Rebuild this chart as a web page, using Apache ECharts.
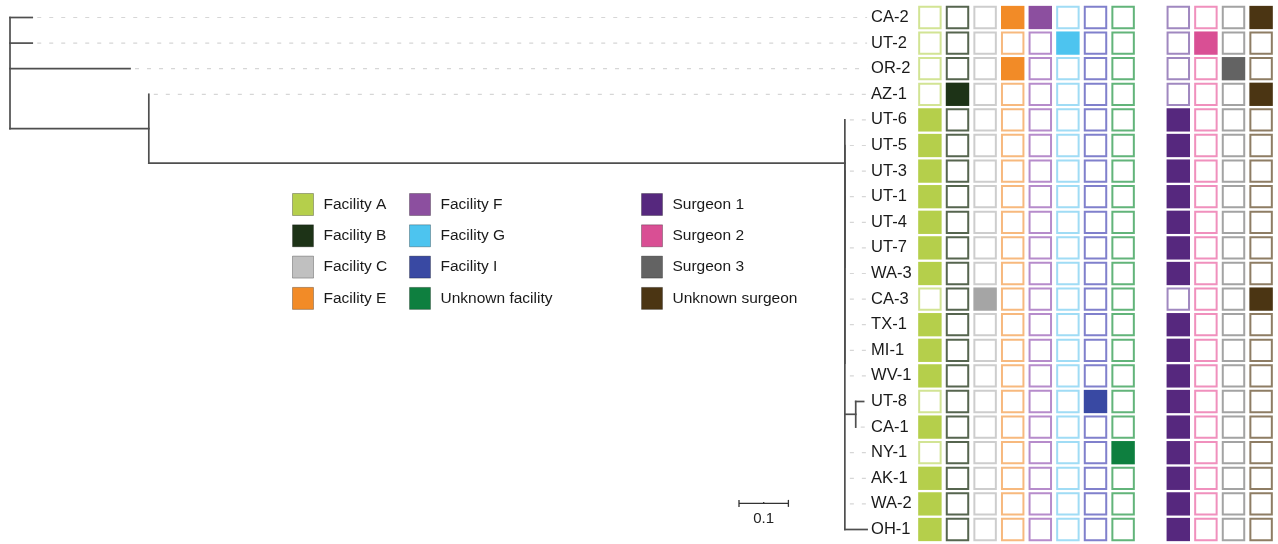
<!DOCTYPE html>
<html>
<head>
<meta charset="utf-8">
<script src="https://cdn.jsdelivr.net/npm/echarts@6/dist/echarts.min.js"></script>
<style>
html,body{margin:0;padding:0;background:#fff;}
#chart{width:1278px;height:544px;}
</style>
</head>
<body>
<div id="chart"></div>
<script>
// ---------------- DATA ----------------
const samples = ['CA-2','UT-2','OR-2','AZ-1','UT-6','UT-5','UT-3','UT-1','UT-4','UT-7','WA-3','CA-3','TX-1','MI-1','WV-1','UT-8','CA-1','NY-1','AK-1','WA-2','OH-1'];

// phylogeny (branch lengths in substitutions/site)
const treeNewick = '(CA-2:0.045,UT-2:0.045,OR-2:0.243,(AZ-1:0,(UT-6:0,(UT-5:0,(UT-3:0,(UT-1:0,UT-4:0,UT-7:0,WA-3:0,CA-3:0,TX-1:0,MI-1:0,WV-1:0,(UT-8:0.016,CA-1:0):0.022,NY-1:0,AK-1:0,WA-2:0,OH-1:0.045):0):0):0):1.409):0.281);';

const facilityCols = ['Facility A','Facility B','Facility C','Facility E','Facility F','Facility G','Facility I','Unknown facility'];
const surgeonCols  = ['Surgeon 1','Surgeon 2','Surgeon 3','Unknown surgeon'];

const sampleFacilities = [
  ['Facility E','Facility F'], ['Facility G'], ['Facility E'], ['Facility B'],
  ['Facility A'], ['Facility A'], ['Facility A'], ['Facility A'], ['Facility A'], ['Facility A'], ['Facility A'],
  ['Facility C'],
  ['Facility A'], ['Facility A'], ['Facility A'],
  ['Facility I'], ['Facility A'], ['Unknown facility'],
  ['Facility A'], ['Facility A'], ['Facility A']
];
const sampleSurgeons = [
  'Unknown surgeon','Surgeon 2','Surgeon 3','Unknown surgeon',
  'Surgeon 1','Surgeon 1','Surgeon 1','Surgeon 1','Surgeon 1','Surgeon 1','Surgeon 1',
  'Unknown surgeon',
  'Surgeon 1','Surgeon 1','Surgeon 1','Surgeon 1','Surgeon 1','Surgeon 1','Surgeon 1','Surgeon 1','Surgeon 1'
];

const scaleBarLength = 0.1;
const scaleBarLabel = '0.1';

// ---------------- STYLES ----------------
const fillColor = {
  'Facility A':'#b5cf4b','Facility B':'#1d3317','Facility C':'#c0c0c0','Facility E':'#f28b27',
  'Facility F':'#8c4f9f','Facility G':'#4dc4ef','Facility I':'#3949a3','Unknown facility':'#0e7f3f',
  'Surgeon 1':'#56287e','Surgeon 2':'#d94f94','Surgeon 3':'#636363','Unknown surgeon':'#4b3513'
};
const cellFillOverride = {'Facility C':'#a5a5a5'};
const borderColor = {
  'Facility A':'#d2e494','Facility B':'#56654f','Facility C':'#cdcdcd','Facility E':'#f7b97e',
  'Facility F':'#b68ccb','Facility G':'#a0dcf5','Facility I':'#8080cc','Unknown facility':'#62b47a',
  'Surgeon 1':'#a088c0','Surgeon 2':'#f090bd','Surgeon 3':'#a3a3a3','Unknown surgeon':'#8e7d64'
};
const FONT = '"Liberation Sans", Arial, Helvetica, sans-serif';

// ---------------- TREE LAYOUT ----------------
function parseNewick(s){
  let i = 0;
  function node(){
    const n = {children:[], name:'', len:0};
    if (s[i] === '('){
      i++;
      n.children.push(node());
      while (s[i] === ','){ i++; n.children.push(node()); }
      i++;
    }
    let name = '';
    while (i < s.length && ',():;'.indexOf(s[i]) < 0) name += s[i++];
    n.name = name.trim();
    if (s[i] === ':'){
      i++; let num = '';
      while (i < s.length && ',();'.indexOf(s[i]) < 0) num += s[i++];
      n.len = parseFloat(num);
    }
    return n;
  }
  return node();
}
const tree = parseNewick(treeNewick);
const branchSegs = [];
const leaves = [];
function layout(n, x0){
  n.x = x0 + n.len;
  if (!n.children.length){
    n.y = samples.indexOf(n.name);
    leaves.push([n.x, n.y, n.name]);
    return;
  }
  n.children.forEach(c => layout(c, n.x));
  const ys = n.children.map(c => c.y);
  n.y = (ys[0] + ys[ys.length-1]) / 2;
  branchSegs.push([n.x, Math.min.apply(null, ys), n.x, Math.max.apply(null, ys)]);
  n.children.forEach(c => branchSegs.push([n.x, c.y, c.x, c.y]));
}
layout(tree, 0);
const maxTip = Math.max.apply(null, leaves.map(l => l[0]));

// ---------------- HEATMAP DATA ----------------
const cellData = [];
samples.forEach((s, r) => {
  facilityCols.forEach((f, c) => {
    cellData.push([c, r, f, sampleFacilities[r].indexOf(f) >= 0 ? 1 : 0]);
  });
  surgeonCols.forEach((g, c) => {
    cellData.push([facilityCols.length + 1 + c, r, g, sampleSurgeons[r] === g ? 1 : 0]);
  });
});

// ---------------- CHART ----------------
const chart = echarts.init(document.getElementById('chart'), null, {renderer:'canvas'});

const rowTop = 4.7, rowH = 537.6;

const legendSeries = facilityCols.concat(surgeonCols).map(name => ({
  name: name, type: 'scatter', xAxisIndex: 0, yAxisIndex: 0, data: [],
  itemStyle: {color: fillColor[name], opacity: 1}
}));

function legendCfg(names, left){
  return {
    data: names, orient: 'vertical', left: left, top: 193, padding: 0,
    itemWidth: 21, itemHeight: 22, itemGap: 8.3, icon: 'rect',
    selectedMode: false,
    itemStyle: {borderColor: 'rgba(0,0,0,0.28)', borderWidth: 1, opacity: 1},
    textStyle: {fontFamily: FONT, fontSize: 15.5, color: '#1a1a1a', padding: [0,0,0,5]}
  };
}

const option = {
  animation: false,
  backgroundColor: '#ffffff',
  grid: [
    {left: 10, top: rowTop, width: 1.8 * 494, height: rowH},
    {left: 916.1, top: rowTop, width: 358.8, height: rowH}
  ],
  xAxis: [
    {type: 'value', gridIndex: 0, min: 0, max: 1.8, show: false},
    {type: 'value', gridIndex: 1, min: -0.5, max: facilityCols.length + surgeonCols.length + 0.5, show: false}
  ],
  yAxis: [
    {type: 'value', gridIndex: 0, min: -0.5, max: samples.length - 0.5, inverse: true, show: false},
    {type: 'value', gridIndex: 1, min: -0.5, max: samples.length - 0.5, inverse: true, show: false}
  ],
  legend: [
    legendCfg(facilityCols.slice(0,4), 292),
    legendCfg(facilityCols.slice(4), 409),
    legendCfg(surgeonCols, 641)
  ],
  series: [
    // leader dashed lines + tip labels
    {
      type: 'custom', xAxisIndex: 0, yAxisIndex: 0, silent: true,
      data: leaves,
      renderItem: function(params, api){
        const tip = api.coord([api.value(0), api.value(1)]);
        const lx = api.coord([maxTip, 0])[0] + 4;
        const name = leaves[params.dataIndex][2];
        const children = [];
        if (lx - 4 - (tip[0] + 5) > 2){
          children.push({type:'line', shape:{x1: tip[0] + 5, y1: tip[1], x2: lx - 4, y2: tip[1]},
            style:{stroke:'#d6d6d6', lineWidth:1.2, lineDash:[4,8]}});
        }
        children.push({type:'text', style:{x: lx, y: tip[1], text: name, fill:'#1a1a1a',
          fontSize: 16.5, fontFamily: FONT, align:'left', verticalAlign:'middle'}});
        return {type:'group', children: children};
      },
      z: 1
    },
    // tree branches
    {
      type: 'custom', xAxisIndex: 0, yAxisIndex: 0, silent: true,
      data: branchSegs,
      renderItem: function(params, api){
        const a = api.coord([api.value(0), api.value(1)]);
        const b = api.coord([api.value(2), api.value(3)]);
        if (Math.abs(a[0]-b[0]) < 0.01 && Math.abs(a[1]-b[1]) < 0.01) return null;
        return {type:'line', shape:{x1:a[0], y1:a[1], x2:b[0], y2:b[1]},
          style:{stroke:'#4f4f4f', lineWidth:1.7, lineCap:'square'}};
      },
      z: 2
    },
    // scale bar
    {
      type: 'custom', xAxisIndex: 0, yAxisIndex: 0, silent: true,
      data: [[1.4757, 18.98, scaleBarLength]],
      renderItem: function(params, api){
        const a = api.coord([api.value(0), api.value(1)]);
        const b = api.coord([api.value(0) + api.value(2), api.value(1)]);
        const m = (a[0] + b[0]) / 2;
        const st = {stroke:'#333', lineWidth:1.3};
        return {type:'group', children:[
          {type:'line', shape:{x1:a[0], y1:a[1], x2:b[0], y2:b[1]}, style:st},
          {type:'line', shape:{x1:a[0], y1:a[1]-3.5, x2:a[0], y2:a[1]+3.5}, style:st},
          {type:'line', shape:{x1:b[0], y1:b[1]-3.5, x2:b[0], y2:b[1]+3.5}, style:st},
          {type:'line', shape:{x1:m, y1:a[1]-1.5, x2:m, y2:a[1]}, style:st},
          {type:'text', style:{x:m, y:a[1]+15, text:scaleBarLabel, fill:'#222', fontSize:15,
            fontFamily:FONT, align:'center', verticalAlign:'middle'}}
        ]};
      }
    },
    // annotation cells
    {
      type: 'custom', xAxisIndex: 1, yAxisIndex: 1, silent: true,
      data: cellData,
      renderItem: function(params, api){
        const c = api.coord([api.value(0), api.value(1)]);
        const sz = api.size([1, 1]);
        const w = sz[0] * 0.85, h = sz[1] * 0.91;
        const key = cellData[params.dataIndex][2];
        const filled = api.value(3) === 1;
        if (filled){
          return {type:'rect', shape:{x:c[0]-w/2, y:c[1]-h/2, width:w, height:h},
            style:{fill: cellFillOverride[key] || fillColor[key]}};
        }
        return {type:'rect', shape:{x:c[0]-w/2+1, y:c[1]-h/2+1, width:w-2, height:h-2},
          style:{fill:'#ffffff', stroke: borderColor[key], lineWidth:2}};
      }
    }
  ].concat(legendSeries)
};
chart.setOption(option);
</script>
</body>
</html>
